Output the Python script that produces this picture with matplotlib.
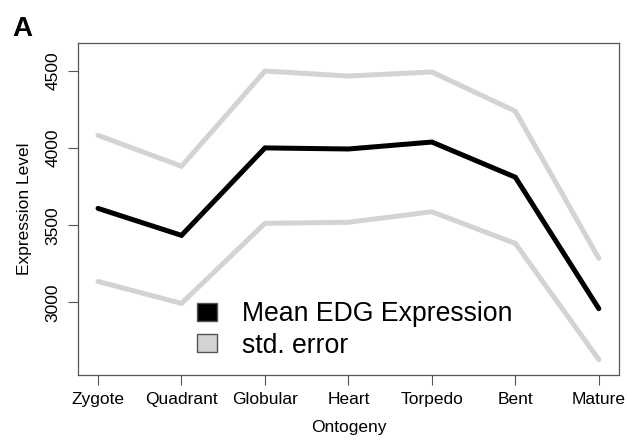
import numpy as np
import matplotlib.pyplot as plt
from matplotlib.patches import Patch

plt.rcParams['font.family'] = ['Liberation Sans', 'DejaVu Sans']

# Mean EDG expression across embryo development stages
stages = ['Zygote', 'Quadrant', 'Globular', 'Heart', 'Torpedo', 'Bent', 'Mature']
mean_expr = [3610, 3435, 4002, 3995, 4040, 3812, 2960]
upper_se = [4084, 3883, 4500, 4468, 4494, 4240, 3286]
lower_se = [3136, 2994, 3513, 3520, 3588, 3383, 2630]
yticks = [3000, 3500, 4000, 4500]

x = np.arange(1, len(stages) + 1)

fig = plt.figure(figsize=(6.27, 4.45), dpi=100)
ax = fig.add_axes([0.1244, 0.157, 0.8626, 0.746])

ax.plot(x, upper_se, color='#d3d3d3', lw=3.6, solid_capstyle='round', solid_joinstyle='miter')
ax.plot(x, lower_se, color='#d3d3d3', lw=3.6, solid_capstyle='round', solid_joinstyle='miter')
ax.plot(x, mean_expr, color='black', lw=3.6, solid_capstyle='round', solid_joinstyle='miter')

ax.set_xlim(0.76, 7.24)
ax.set_ylim(2529, 4681)
ax.set_xticks(x)
ax.set_xticklabels(stages, fontsize=12.5)
ax.set_yticks(yticks)
ax.set_yticklabels([str(v) for v in yticks], fontsize=12.5, rotation=90, va='center')
ax.tick_params(direction='out', length=7.5, width=0.8, color='#555555', pad=5)
for s in ax.spines.values():
    s.set_color('#555555')
    s.set_linewidth(0.9)

ax.set_xlabel('Ontogeny', fontsize=12.5, labelpad=9)
ax.set_ylabel('Expression Level', fontsize=12.5, labelpad=10)

handles = [Patch(facecolor='black', edgecolor='#555555', label='Mean EDG Expression'),
           Patch(facecolor='#d3d3d3', edgecolor='#555555', label='std. error')]
ax.legend(handles=handles, loc='lower left', bbox_to_anchor=(0.22, 0.05), frameon=False,
          fontsize=19.2, handlelength=0.75, handleheight=0.64, handletextpad=0.94,
          labelspacing=0.2, borderpad=0.0, borderaxespad=0.0)

fig.text(0.02, 0.965, 'A', fontsize=20, fontweight='bold', va='top')

fig.savefig('out.png', dpi=100)
